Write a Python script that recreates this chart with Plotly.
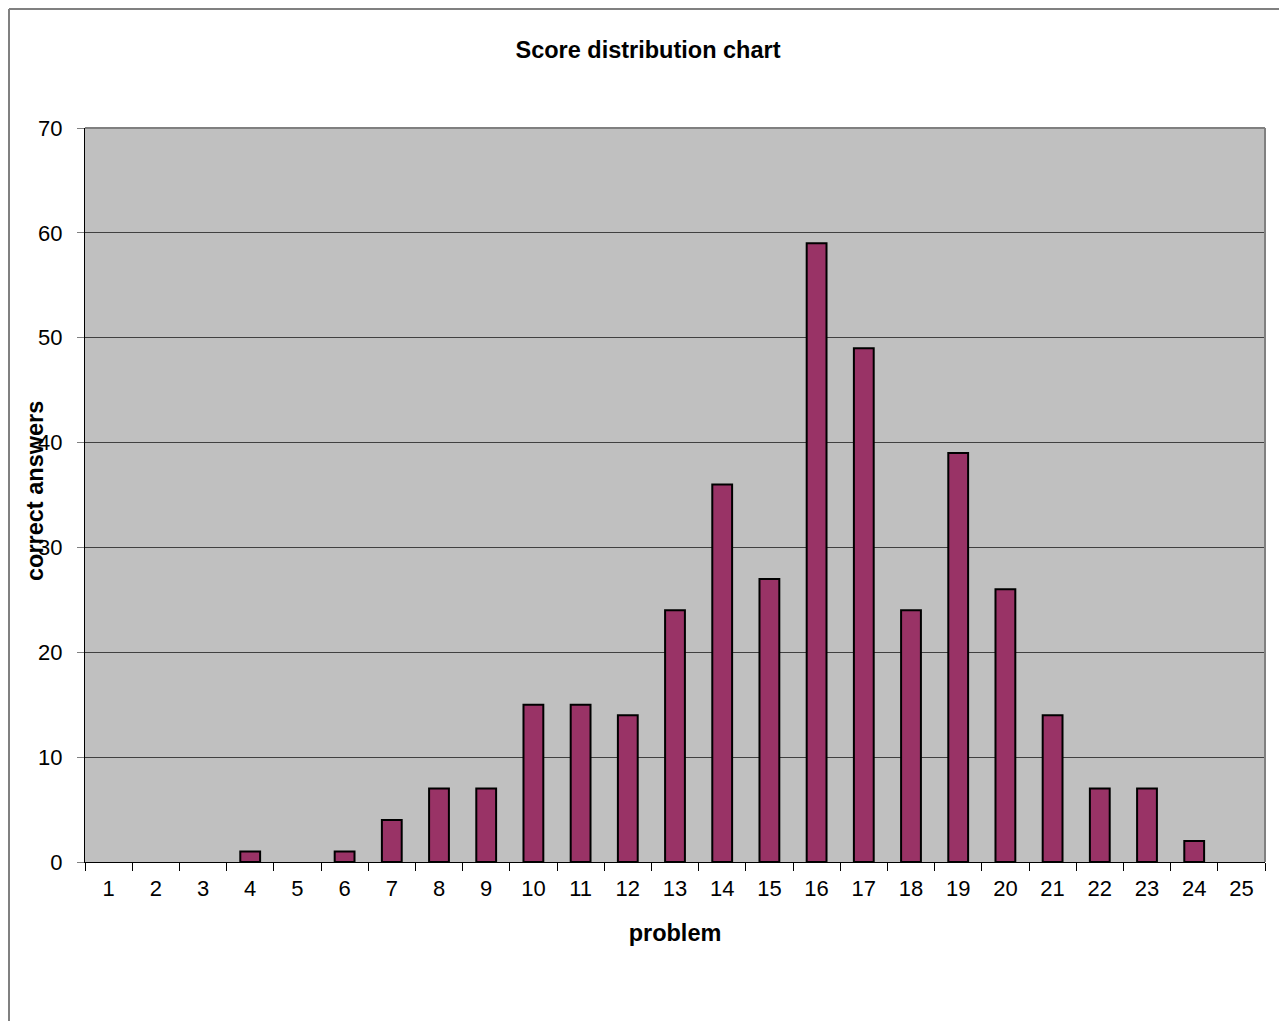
import plotly.graph_objects as go

problems = [str(i) for i in range(1, 26)]
correct_answers = [0, 0, 0, 1, 0, 1, 4, 7, 7, 15, 15, 14, 24, 36, 27, 59, 49, 24, 39, 26, 14, 7, 7, 2, 0]
y_ticks = [0, 10, 20, 30, 40, 50, 60, 70]

FONT = "Liberation Sans, Arial, sans-serif"

# page body has an 8px margin; figure is placed at (8, 8)
OFF = 8
W, H = 1287 - 2 * OFF, 1029 - 2 * OFF
L = 85 - OFF
T = 128 - OFF
R = W - (1265 - OFF)
B = H - (862 - OFF)
pw, ph = W - L - R, H - T - B

def px_x(x):  # page pixel -> paper x
    return (x - OFF - L) / pw

def px_y(y):  # page pixel -> paper y
    return (H - B - (y - OFF)) / ph

fig = go.Figure()
fig.add_trace(go.Bar(
    x=problems, y=correct_answers,
    marker=dict(color="#993366",
                line=dict(color="black", width=[2 if v > 0 else 0 for v in correct_answers])),
    width=0.42,
))

fig.update_layout(
    width=W, height=H,
    margin=dict(l=L, r=R, t=T, b=B, pad=0),
    paper_bgcolor="white",
    plot_bgcolor="#C0C0C0",
    showlegend=False,
    font=dict(family=FONT, color="black", size=22),
    title=dict(text="<b>Score distribution chart</b>", x=(648 - OFF) / W, xanchor="center",
               y=1 - (50 - OFF) / H, yanchor="middle", font=dict(size=23.5, family=FONT)),
    xaxis=dict(
        type="category", tickson="boundaries", ticks="outside", ticklen=8,
        tickcolor="black", tickwidth=1, showline=True, linecolor="black", linewidth=1,
        showgrid=False, tickfont=dict(size=22), ticklabelstandoff=7,
        title=dict(text="<b>problem</b>", font=dict(size=23.5), standoff=24),
        range=[-0.5, 24.5],
    ),
    yaxis=dict(
        range=[0, 70], tickvals=y_ticks, ticks="outside", ticklen=7,
        tickcolor="#808080", showline=True, linecolor="black", linewidth=1,
        showgrid=True, gridcolor="#404040", gridwidth=1, tickfont=dict(size=22),
        ticklabelstandoff=10, zeroline=False,
    ),
    shapes=[
        dict(type="line", xref="paper", yref="paper", x0=0, x1=1, y0=1, y1=1,
             line=dict(color="#808080", width=2)),
        dict(type="line", xref="paper", yref="paper", x0=1, x1=1, y0=0, y1=1,
             line=dict(color="#808080", width=2)),
        # outer chart frame (left and top edges)
        dict(type="line", xref="paper", yref="paper",
             x0=px_x(OFF + 1), x1=px_x(OFF + 1), y0=px_y(1100), y1=px_y(OFF + 1),
             line=dict(color="#808080", width=2)),
        dict(type="line", xref="paper", yref="paper",
             x0=px_x(OFF + 1), x1=px_x(1400), y0=px_y(OFF + 1), y1=px_y(OFF + 1),
             line=dict(color="#808080", width=2)),
    ],
    annotations=[
        dict(text="<b>correct answers</b>", xref="paper", yref="paper",
             x=px_x(35), y=px_y(491), xanchor="center", yanchor="middle",
             textangle=-90, showarrow=False, font=dict(size=23.5, family=FONT)),
    ],
)

fig.write_html("out.html")
